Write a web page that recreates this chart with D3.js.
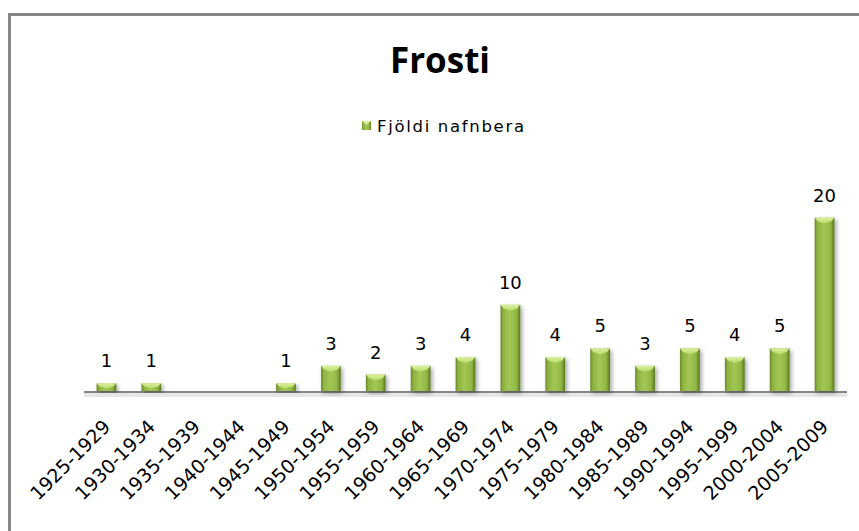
<!DOCTYPE html>
<html>
<head>
<meta charset="utf-8">
<script src="https://cdn.jsdelivr.net/npm/d3@7"></script>
<style>
  html, body { margin: 0; padding: 0; background: #fff; }
  svg { display: block; }
</style>
</head>
<body>
<svg id="chart" width="859" height="531"></svg>
<script>
const categories = ["1925-1929","1930-1934","1935-1939","1940-1944","1945-1949","1950-1954","1955-1959","1960-1964","1965-1969","1970-1974","1975-1979","1980-1984","1985-1989","1990-1994","1995-1999","2000-2004","2005-2009"];
const values = [1,1,0,0,1,3,2,3,4,10,4,5,3,5,4,5,20];
const seriesName = "Fjöldi nafnbera";
const title = "Frosti";

const svg = d3.select("#chart");
const defs = svg.append("defs");

const gBody = defs.append("linearGradient").attr("id","barBody").attr("x1","0").attr("x2","1").attr("y1","0").attr("y2","0");
[["0%","#6a882a"],["14%","#8fb342"],["45%","#a2c755"],["80%","#93b745"],["100%","#5b7822"]].forEach(([o,c]) => gBody.append("stop").attr("offset",o).attr("stop-color",c));

const gTop = defs.append("linearGradient").attr("id","barTop").attr("x1","0").attr("x2","0").attr("y1","0").attr("y2","1");
[["0%","#e4f5a8"],["100%","#b8dc6a"]].forEach(([o,c]) => gTop.append("stop").attr("offset",o).attr("stop-color",c));

const shadow = defs.append("filter").attr("id","shadow").attr("x","-50%").attr("y","-20%").attr("width","200%").attr("height","140%");
shadow.append("feGaussianBlur").attr("in","SourceAlpha").attr("stdDeviation","2.2");
shadow.append("feOffset").attr("dx","2").attr("dy","2").attr("result","b");
shadow.append("feComponentTransfer").append("feFuncA").attr("type","linear").attr("slope","0.35");
const fm = shadow.append("feMerge");
fm.append("feMergeNode");
fm.append("feMergeNode").attr("in","SourceGraphic");

// frame
svg.append("rect").attr("x",9.5).attr("y",14.5).attr("width",900).attr("height",600)
  .attr("fill","#fff").attr("stroke","#868686").attr("stroke-width",3);

const x = d3.scaleBand().domain(categories).range([84, 847]).paddingInner(0.56).paddingOuter(0.28);
const y = d3.scaleLinear().domain([0, 20]).range([392, 217.6]);

// title
svg.append("text").attr("x", 440).attr("y", 73).attr("text-anchor","middle")
  .attr("font-family","'Open Sans', sans-serif").attr("font-weight",700).attr("font-size",35)
  .attr("fill","#000").text(title);

// legend
const lg = svg.append("g");
lg.append("rect").attr("x",362).attr("y",121).attr("width",9).attr("height",9).attr("fill","url(#barBody)");
lg.append("path").attr("d","M362,121h9l-4.5,4z").attr("fill","#d6ef90");
lg.append("text").attr("x",377).attr("y",132).attr("font-family","'DejaVu Sans', sans-serif").attr("font-size",16.5)
  .attr("textLength",147).attr("lengthAdjust","spacing")
  .attr("fill","#000").text(seriesName);

// axis shadow + line
svg.append("rect").attr("x",84).attr("y",393).attr("width",763).attr("height",4).attr("fill","#e6e6e6");
svg.append("line").attr("x1",84).attr("x2",847).attr("y1",392).attr("y2",392).attr("stroke","#868686").attr("stroke-width",2);

// bars
const data = categories.map((c,i) => ({c, v: values[i]}));
const bars = svg.append("g").selectAll("g").data(data.filter(d => d.v > 0)).join("g");
bars.append("rect")
  .attr("x", d => x(d.c)).attr("y", d => y(d.v))
  .attr("width", x.bandwidth()).attr("height", d => y(0) - y(d.v) - 1)
  .attr("fill","url(#barBody)").attr("filter","url(#shadow)");
bars.append("path")
  .attr("d", d => {
    const x0 = x(d.c), w = x.bandwidth(), t = y(d.v);
    const h = Math.min(6, (y(0) - t) * 0.6);
    return `M${x0},${t}H${x0+w}L${x0+w-3},${t+h*0.6}L${x0+w/2},${t+h}L${x0+3},${t+h*0.6}Z`;
  })
  .attr("fill","url(#barTop)").attr("opacity",0.9);

// value labels
svg.append("g").selectAll("text").data(data.filter(d => d.v > 0)).join("text")
  .attr("x", d => x(d.c) + x.bandwidth()/2).attr("y", d => y(d.v) - 16)
  .attr("text-anchor","middle").attr("font-family","'DejaVu Sans', sans-serif").attr("font-size",18)
  .attr("fill","#000").text(d => d.v);

// x axis labels
svg.append("g").selectAll("text").data(categories).join("text")
  .attr("transform", d => `translate(${x(d) + x.bandwidth()/2 + 5},428) rotate(-45)`)
  .attr("text-anchor","end").attr("font-family","'DejaVu Sans', sans-serif").attr("font-size",19)
  .attr("fill","#000").text(d => d);
</script>
</body>
</html>
